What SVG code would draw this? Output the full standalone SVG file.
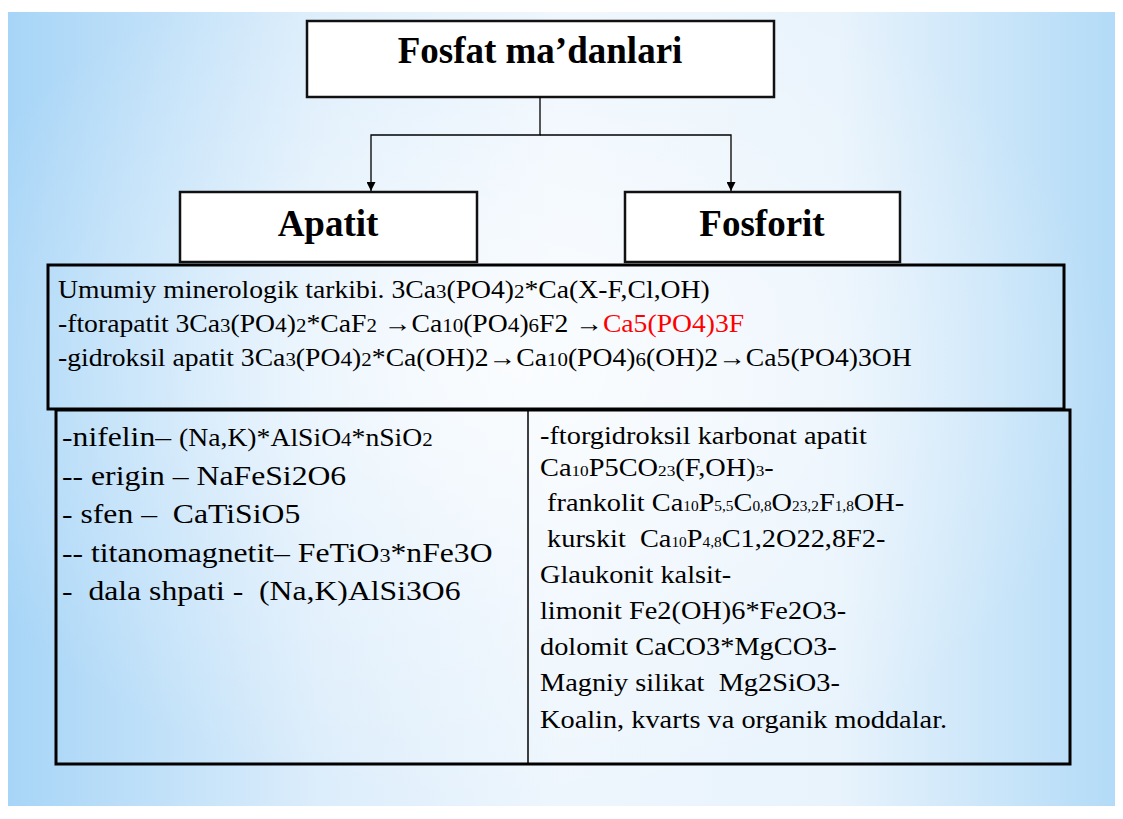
<svg xmlns="http://www.w3.org/2000/svg" width="1123" height="819" viewBox="0 0 1123 819">
  <defs>
    <linearGradient id="bgH" x1="0" y1="0" x2="1" y2="0">
      <stop offset="0" stop-color="#a7d5f7"/>
      <stop offset="0.28" stop-color="#dcedfb"/>
      <stop offset="0.5" stop-color="#eef6fd"/>
      <stop offset="0.75" stop-color="#e8f3fc"/>
      <stop offset="1" stop-color="#b3dbf7"/>
    </linearGradient>
    <radialGradient id="bgGlow" cx="0.45" cy="0.45" r="0.55">
      <stop offset="0" stop-color="#ffffff" stop-opacity="0.75"/>
      <stop offset="0.6" stop-color="#ffffff" stop-opacity="0.25"/>
      <stop offset="1" stop-color="#ffffff" stop-opacity="0"/>
    </radialGradient>
    <marker id="arrow" viewBox="0 0 10 10" refX="10" refY="5" markerWidth="10" markerHeight="9" markerUnits="userSpaceOnUse" orient="auto">
      <path d="M0,0 L10,5 L0,10 z" fill="#000"/>
    </marker>
    <style>
      .box { fill: #ffffff; stroke: #111; stroke-width: 2.5; }
      .panel { fill: none; stroke: #000; stroke-width: 3; }
      .rule { stroke: #000; stroke-width: 1.5; }
      .link { fill: none; stroke: #000; stroke-width: 1.3; }
      .title { font-family: "Liberation Serif", "Times New Roman", serif; font-weight: bold; fill: #000; text-anchor: middle; }
      .t { font-family: "Liberation Serif", "Times New Roman", serif; fill: #000; white-space: pre; }
      .u { font-size: 24.7px; }
      .l { font-size: 28.3px; }
      .r { font-size: 25.3px; }
      .us { font-size: 18.7px; }
      .rs { font-size: 15.4px; }
      .rt { font-size: 13.7px; }
      .red { fill: #ff0000; }
    </style>
  </defs>

  <!-- slide background -->
  <rect x="0" y="0" width="1123" height="819" fill="#ffffff"/>
  <rect x="8" y="12" width="1107" height="794" fill="url(#bgH)"/>
  <rect x="8" y="12" width="1107" height="794" fill="url(#bgGlow)"/>

  <!-- root node -->
  <g id="node-root">
    <rect class="box" x="307" y="21" width="467" height="76"/>
    <text class="title" x="540" y="63" font-size="37">Fosfat ma’danlari</text>
  </g>

  <!-- child nodes -->
  <g id="node-apatit">
    <rect class="box" x="180" y="192" width="297" height="70"/>
    <text class="title" x="328" y="236" font-size="37">Apatit</text>
  </g>
  <g id="node-fosforit">
    <rect class="box" x="625" y="192" width="275" height="70"/>
    <text class="title" x="762" y="236" font-size="37">Fosforit</text>
  </g>

  <!-- connectors -->
  <g id="connectors">
    <path class="link" d="M540,97 V135 H371 V191" marker-end="url(#arrow)"/>
    <path class="link" d="M540,135 H731 V191" marker-end="url(#arrow)"/>
  </g>

  <!-- general composition panel -->
  <g id="node-composition">
    <rect class="panel" x="48" y="265" width="1016" height="144"/>
    <text class="t u" transform="translate(58,298) scale(1.12,1)">Umumiy minerologik tarkibi. 3Ca<tspan class="us">3</tspan>(PO4)<tspan class="us">2</tspan>*Ca(X-F,Cl,OH)</text>
    <text class="t u" transform="translate(58,332) scale(1.12,1)">-ftorapatit 3Ca<tspan class="us">3</tspan>(PO<tspan font-size="20.9">4</tspan>)<tspan class="us">2</tspan>*CaF<tspan class="us">2</tspan> →Ca<tspan class="us">10</tspan>(PO<tspan font-size="20.9">4</tspan>)<tspan class="us">6</tspan>F2 →<tspan class="red">Ca5(PO4)3F</tspan></text>
    <text class="t u" transform="translate(58,366) scale(1.12,1)">-gidroksil apatit 3Ca<tspan class="us">3</tspan>(PO<tspan font-size="20.9">4</tspan>)<tspan class="us">2</tspan>*Ca(OH)2→Ca<tspan class="us">10</tspan>(PO4)<tspan class="us">6</tspan>(OH)2→Ca5(PO4)3OH</text>
  </g>

  <!-- minerals table -->
  <g id="node-minerals">
    <rect class="panel" x="56" y="410" width="1014" height="354"/>
    <line class="rule" x1="528" y1="410" x2="528" y2="764"/>
  </g>

  <g id="node-apatit-minerals">
    <text class="t l" transform="translate(62,446) scale(1.12,1)">-nifelin– <tspan font-size="24.7">(Na,K)*AlSiO<tspan font-size="18.7">4</tspan>*nSiO<tspan font-size="18.7">2</tspan></tspan></text>
    <text class="t l" transform="translate(62,485) scale(1.12,1)">-- erigin – NaFeSi2O6</text>
    <text class="t l" transform="translate(62,523) scale(1.12,1)">- sfen –  CaTiSiO5</text>
    <text class="t l" transform="translate(62,562) scale(1.12,1)">-- titanomagnetit– FeTiO<tspan font-size="19.8">3</tspan>*nFe3O</text>
    <text class="t l" transform="translate(62,600) scale(1.12,1)">-  dala shpati -  (Na,K)AlSi3O6</text>
  </g>

  <g id="node-fosforit-minerals">
    <text class="t r" transform="translate(540,444) scale(1.12,1)">-ftorgidroksil karbonat apatit</text>
    <text class="t r" transform="translate(540,476) scale(1.12,1)">Ca<tspan class="rs">10</tspan>P5CO<tspan class="rs">23</tspan>(F,OH)<tspan class="rs">3</tspan>-</text>
    <text class="t r" transform="translate(540,511) scale(1.12,1)"> frankolit Ca<tspan class="rt">10</tspan>P<tspan class="rt">5,5</tspan>C<tspan class="rt">0,8</tspan>O<tspan class="rt">23,2</tspan>F<tspan class="rt">1,8</tspan>OH-</text>
    <text class="t r" transform="translate(540,547) scale(1.12,1)"> kurskit  Ca<tspan class="rt">10</tspan>P<tspan class="rt">4,8</tspan>C1,2O22,8F2-</text>
    <text class="t r" transform="translate(540,583) scale(1.12,1)">Glaukonit kalsit-</text>
    <text class="t r" transform="translate(540,619) scale(1.12,1)">limonit Fe2(OH)6*Fe2O3-</text>
    <text class="t r" transform="translate(540,655) scale(1.12,1)">dolomit CaCO3*MgCO3-</text>
    <text class="t r" transform="translate(540,691) scale(1.12,1)">Magniy silikat  Mg2SiO3-</text>
    <text class="t r" transform="translate(540,728) scale(1.12,1)">Koalin, kvarts va organik moddalar.</text>
  </g>
</svg>
